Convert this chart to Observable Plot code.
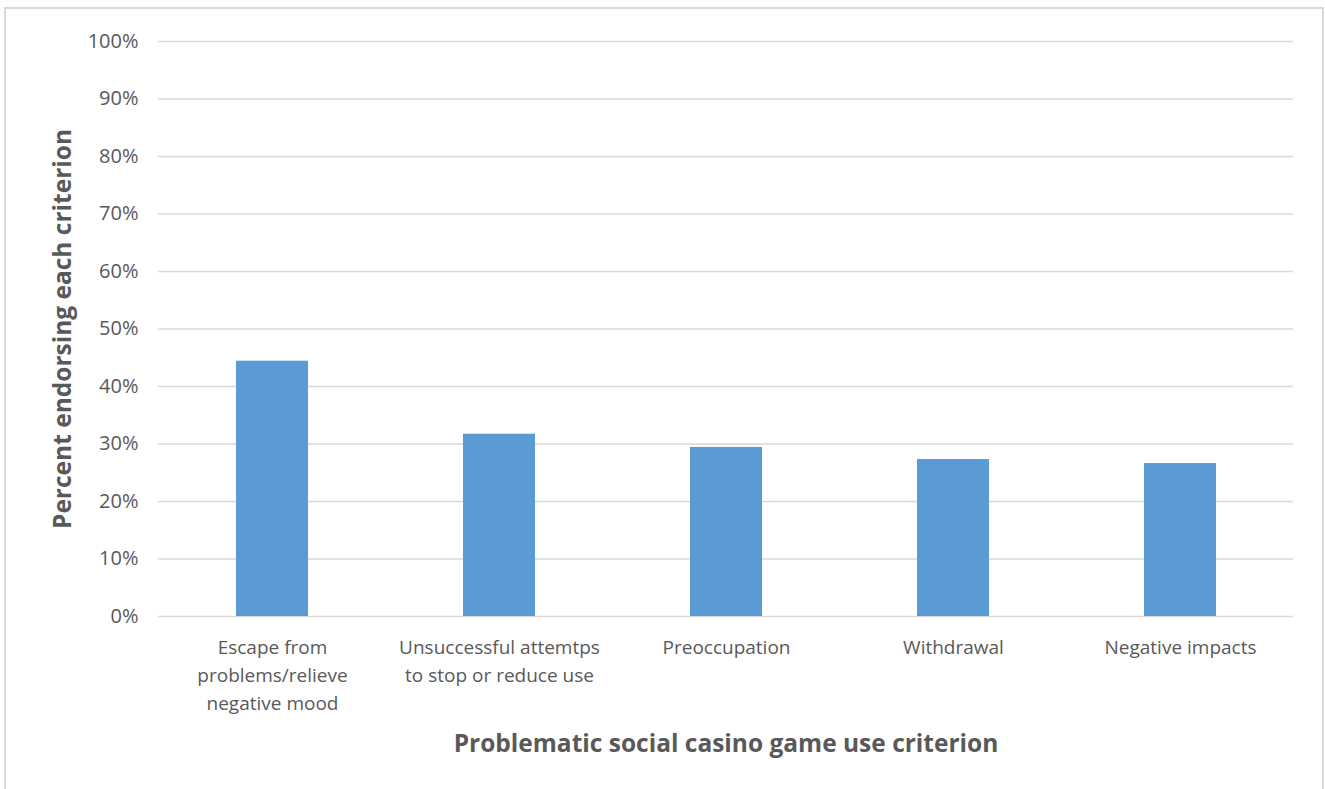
<!DOCTYPE html>
<html><head><meta charset="utf-8">
<script src="https://cdn.jsdelivr.net/npm/d3@7"></script>
<script src="https://cdn.jsdelivr.net/npm/@observablehq/plot@0.6"></script>
<style>
body{margin:0;background:#fff;overflow:hidden;}
#frame{position:absolute;left:4px;top:7px;width:1320px;height:800px;border:2px solid #d9d9d9;border-bottom:none;box-sizing:border-box;}
#chart{position:absolute;left:0;top:0;}
</style></head><body><div id="frame"></div><div id="chart"></div>
<script>
const categories = ["Escape from problems/relieve negative mood", "Unsuccessful attemtps to stop or reduce use", "Preoccupation", "Withdrawal", "Negative impacts"];
const tickLabels = ["Escape from\nproblems/relieve\nnegative mood", "Unsuccessful attemtps\nto stop or reduce use", "Preoccupation", "Withdrawal", "Negative impacts"];
const values = [44.4, 31.7, 29.4, 27.3, 26.6];
const yTicks = [0, 10, 20, 30, 40, 50, 60, 70, 80, 90, 100];
const yTitle = "Percent endorsing each criterion";
const xTitle = "Problematic social casino game use criterion";

const data = categories.map((c, i) => ({category: c, value: values[i]}));
const font = "'Open Sans', 'Noto Sans', sans-serif";

const chart = Plot.plot({
  width: 1325,
  height: 789,
  marginLeft: 158,
  marginRight: 32,
  marginTop: 41,
  marginBottom: 173,
  style: {fontFamily: font, fontSize: "19px", color: "#595959", background: "transparent"},
  x: {domain: categories, paddingInner: 0.683, paddingOuter: 0.3415},
  y: {domain: [0, 100]},
  marks: [
    Plot.ruleY(yTicks, {stroke: "#d9d9d9", strokeWidth: 1.5}),
    Plot.barY(data, {x: "category", y: "value", fill: "#5b9bd5"}),
    Plot.axisY({ticks: yTicks, tickFormat: d => d + "%", tickSize: 0, tickPadding: 20, label: null, fill: "#595959", fontSize: 20}),
    Plot.axisX({tickSize: 0, tickPadding: 18, lineHeight: 1.47, label: null, fill: "#595959", fontSize: 19,
      tickFormat: d => tickLabels[categories.indexOf(d)]}),
    Plot.text([yTitle], {frameAnchor: "left", dx: -95, rotate: -90, textAnchor: "middle", fontWeight: "bold", fontSize: 24.5, fill: "#595959"}),
    Plot.text([xTitle], {frameAnchor: "bottom", dy: 135, fontWeight: "bold", fontSize: 24.5, fill: "#595959"})
  ]
});
document.getElementById("chart").appendChild(chart);
</script></body></html>
